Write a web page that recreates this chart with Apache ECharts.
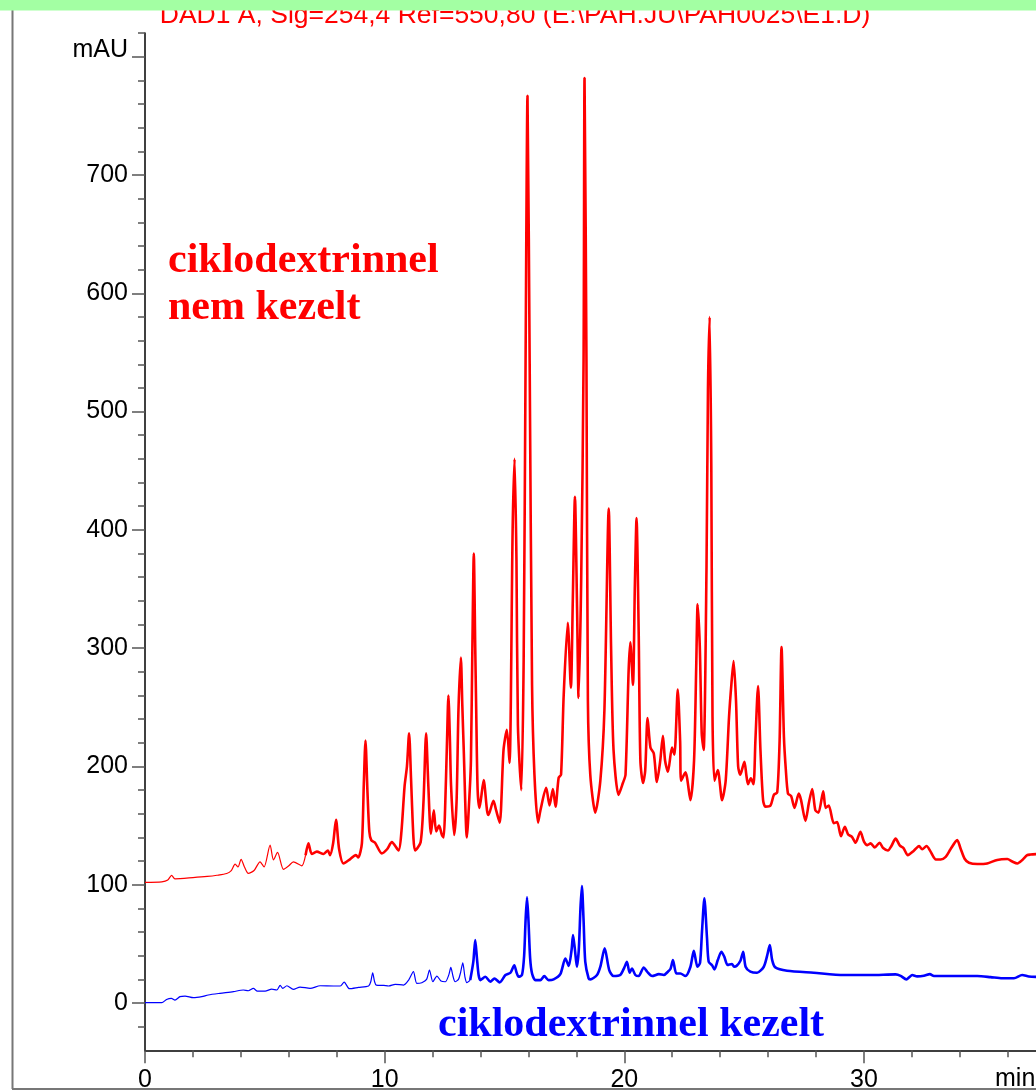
<!DOCTYPE html>
<html>
<head>
<meta charset="utf-8">
<script src="https://cdn.jsdelivr.net/npm/echarts@6/dist/echarts.min.js"></script>
<style>
  html, body { margin: 0; padding: 0; background: #fff; }
  #chart { width: 1036px; height: 1092px; }
</style>
</head>
<body>
<div id="chart"></div>
<script>
// Retention times (min) and absorbance (mAU) of the untreated sample
const redTime = [
  0.00, 0.70, 0.95, 1.11, 1.25, 2.00, 2.60, 3.00, 3.41, 3.60, 3.76, 3.88, 4.01, 4.15, 4.31, 4.55,
  4.80, 4.97, 5.22, 5.36, 5.53, 5.78, 6.00, 6.19, 6.54, 6.70, 6.82, 6.96, 7.17, 7.45, 7.63, 7.72,
  7.85, 7.97, 8.10, 8.28, 8.55, 8.80, 8.90, 9.05, 9.13, 9.20, 9.28, 9.36, 9.44, 9.60, 9.88, 10.10,
  10.30, 10.58, 10.70, 10.83, 10.93, 11.02, 11.10, 11.20, 11.27, 11.50, 11.62, 11.73, 11.82, 11.93,
  12.05, 12.15, 12.27, 12.39, 12.46, 12.52, 12.60, 12.66, 12.72, 12.77, 12.90, 13.00, 13.08, 13.18,
  13.24, 13.30, 13.43, 13.55, 13.60, 13.66, 13.72, 13.78, 13.82, 13.88, 13.96, 14.13, 14.27, 14.33,
  14.54, 14.65, 14.80, 14.96, 15.10, 15.21, 15.34, 15.42, 15.50, 15.56, 15.70, 15.80, 15.88, 15.96,
  16.05, 16.15, 16.25, 16.40, 16.50, 16.74, 16.88, 17.02, 17.13, 17.26, 17.36, 17.47, 17.64, 17.77,
  17.85, 17.94, 18.03, 18.09, 18.20, 18.30, 18.34, 18.42, 18.48, 18.58, 18.79, 19.00, 19.17, 19.35,
  19.45, 19.55, 19.76, 19.94, 20.05, 20.18, 20.25, 20.36, 20.44, 20.51, 20.60, 20.67, 20.78, 20.87,
  20.97, 21.09, 21.23, 21.36, 21.50, 21.61, 21.70, 21.82, 21.99, 22.09, 22.23, 22.33, 22.37, 22.55,
  22.76, 22.91, 23.00, 23.06, 23.15, 23.23, 23.31, 23.43, 23.49, 23.56, 23.63, 23.68, 23.76, 23.90,
  24.08, 24.23, 24.37, 24.47, 24.56, 24.66, 24.75, 24.84, 25.01, 25.09, 25.16, 25.28, 25.39, 25.47,
  25.58, 25.68, 25.79, 25.89, 26.10, 26.24, 26.38, 26.48, 26.56, 26.66, 26.74, 26.83, 26.96, 27.10,
  27.28, 27.37, 27.56, 27.70, 27.84, 27.97, 28.10, 28.30, 28.40, 28.53, 28.74, 28.88, 29.04, 29.20,
  29.34, 29.50, 29.65, 29.85, 30.00, 30.14, 30.28, 30.45, 30.65, 30.80, 31.00, 31.15, 31.32, 31.50,
  31.65, 31.83, 32.08, 32.30, 32.43, 32.61, 32.78, 33.00, 33.20, 33.41, 33.61, 33.89, 34.03, 34.20,
  34.38, 34.73, 35.14, 35.56, 35.98, 36.19, 36.40, 36.61, 36.81, 36.95, 37.30
];
const redSignal = [
  102, 102.5, 104, 108, 105, 106, 107, 108, 109.5, 112, 117.5, 115, 121.5, 115, 109.6, 112,
  119.4, 115, 133.5, 121, 127.3, 113, 116, 119.4, 116, 125, 135, 126, 128, 126, 129, 125,
  135, 155, 130, 118, 121.5, 125, 123, 135, 185, 222, 180, 145, 137.7, 135.5, 126.5, 130,
  136, 129, 145, 183, 200, 228, 190, 140, 129, 136, 170, 228, 185, 143,
  163, 145, 150, 142, 140, 163, 220, 260, 225, 184, 142, 170, 248, 292,
  252, 214, 140, 180, 205, 300, 380, 300, 248, 180, 165, 188.5, 163, 159,
  171, 163, 152.5, 214, 231, 203, 400, 460, 374, 235, 180, 290, 543, 767,
  543, 269, 193, 152.5, 163, 182, 167, 181, 166, 190.5, 193, 260, 321.5, 266.6,
  340, 428, 332, 258, 357, 543, 782, 543, 256, 193, 161, 188, 248, 418,
  298, 214, 176, 186, 193, 281, 305, 269, 353, 410, 313, 205, 186, 196,
  241, 216, 211, 187, 205, 226, 205, 195.5, 216, 210, 265, 221, 188, 195,
  171.5, 205, 284, 337, 301, 228, 214, 369, 518, 580, 453, 242, 188, 197,
  171.5, 188, 242, 270, 289, 256, 200, 193, 204, 193, 185, 190, 185, 222,
  268, 214, 171.5, 166, 167, 176, 178, 222, 301, 225, 197, 177, 175, 165,
  177, 172, 154, 169, 181, 163, 161, 179, 165, 167, 152, 153, 141, 149,
  142.5, 140.5, 135.5, 144.8, 136.5, 133.5, 135, 131.5, 135.5, 131, 129, 133, 139, 133,
  131, 125, 128.7, 132.7, 130, 132.7, 128, 121.4, 121.4, 123.6, 130, 137.7, 130.7, 122,
  118.6, 117.5, 118, 121, 121.7, 119.6, 118, 121, 125, 125.5, 126
];

// Retention times (min) and absorbance (mAU) of the cyclodextrin-treated sample
const blueTime = [
  0.00, 0.70, 0.90, 1.10, 1.25, 1.46, 1.67, 2.02, 2.37, 2.64, 3.13, 3.69, 4.10, 4.31, 4.52, 4.69,
  5.01, 5.29, 5.50, 5.64, 5.75, 5.92, 6.19, 6.47, 6.89, 7.31, 7.87, 8.15, 8.31, 8.53, 8.91, 9.33,
  9.42, 9.50, 9.58, 9.65, 9.96, 10.17, 10.44, 10.79, 11.00, 11.20, 11.34, 11.55, 11.75, 11.87, 12.01, 12.18,
  12.35, 12.53, 12.68, 12.76, 12.86, 12.94, 13.08, 13.17, 13.26, 13.35, 13.43, 13.57, 13.70, 13.78, 13.85, 13.92,
  14.00, 14.20, 14.41, 14.58, 14.80, 15.04, 15.25, 15.41, 15.50, 15.59, 15.73, 15.82, 15.88, 15.94, 16.00, 16.07,
  16.15, 16.29, 16.50, 16.66, 16.84, 17.05, 17.33, 17.54, 17.68, 17.80, 17.86, 17.94, 18.02, 18.10, 18.17, 18.23,
  18.30, 18.37, 18.51, 18.58, 18.86, 19.00, 19.18, 19.37, 19.55, 19.83, 20.00, 20.11, 20.22, 20.32, 20.46, 20.60,
  20.81, 20.95, 21.16, 21.44, 21.65, 21.82, 21.93, 22.03, 22.17, 22.34, 22.55, 22.76, 22.90, 23.05, 23.16, 23.24,
  23.34, 23.45, 23.52, 23.66, 23.76, 23.90, 24.05, 24.17, 24.31, 24.49, 24.58, 24.69, 24.85, 24.96, 25.06, 25.26,
  25.54, 25.82, 25.96, 26.07, 26.17, 26.30, 26.79, 27.90, 29.16, 30.28, 31.32, 31.53, 31.77, 31.90, 32.01, 32.22,
  32.50, 32.75, 32.92, 33.76, 34.73, 35.28, 35.77, 36.26, 36.60, 36.88, 37.30
];
const blueSignal = [
  0.3, 0.3, 3, 3.9, 2.5, 5.4, 5.9, 4.5, 5.4, 6.8, 8.2, 9.6, 11, 10.4, 12.4, 10.1,
  10.1, 11.8, 11, 14.9, 12.4, 14.6, 11.5, 13.5, 12.4, 14.6, 14.4, 14.4, 17.7, 12.1, 13.2, 14.4,
  18, 25.6, 18, 15.2, 14.9, 14.4, 15.8, 15.2, 19.4, 26.5, 16.6, 17.2, 20, 27.9, 18, 22.8,
  18.6, 18, 24, 30.1, 22, 18, 20, 26, 34, 22, 17.2, 19.4, 35, 53.2, 38, 23.7,
  19.4, 22.2, 18, 20.8, 17.5, 23.7, 25.6, 32, 26, 22.2, 23.7, 40, 70, 89.3, 70, 38,
  25, 19.4, 19.4, 22.8, 19.4, 20, 24.4, 37.7, 31.3, 45, 57.5, 45, 30.7, 45, 80, 98.9,
  70, 35, 20.8, 20, 23.7, 30.7, 46.2, 27.9, 22.8, 23.7, 30, 34.9, 25.6, 29.2, 23.7, 22.8,
  30.1, 26.5, 22.8, 24.4, 23.7, 26.5, 29, 36.3, 25, 25, 22.8, 30.7, 44.2, 30.7, 34, 60,
  88.5, 55, 34.9, 32, 28.4, 36.3, 43.4, 39.2, 32.1, 33, 30.7, 31.5, 36, 43.4, 30.7, 26.5,
  25.6, 30.7, 40, 49, 36.3, 30.1, 27.3, 25.6, 23.7, 23.7, 24.2, 23, 20, 22, 23.7, 22.5,
  23, 24.4, 22.8, 22.8, 22.8, 21.9, 20.9, 20.9, 23.7, 22.5, 22
];

// Axis ticks
const timeLabelTicks = [0, 10, 20, 30];
const timeMinorTicks = [0, 2, 4, 6, 8, 10, 12, 14, 16, 18, 20, 22, 24, 26, 28, 30, 32, 34, 36, 38];
const mauLabelTicks = [0, 100, 200, 300, 400, 500, 600, 700, 800];
const mauMinorTicks = [];
for (let v = -20; v <= 820; v += 20) mauMinorTicks.push(v);

const TIME_MIN = 0, TIME_MAX = 38;
const MAU_MIN = -40, MAU_MAX = 820;

function segment(times, values, from, to) {
  const out = [];
  for (let i = 0; i < times.length; i++) {
    if (times[i] >= from && times[i] <= to) out.push([times[i], values[i]]);
  }
  return out;
}

const chart = echarts.init(document.getElementById('chart'), null, { renderer: 'canvas' });

// The plot area runs past the right edge of the page, as the time axis is cut there
const grid = {
  left: 145, top: 33.05, width: 910.7, height: 1017.3,
  containLabel: false, outerBoundsMode: 'none'
};
const labelFont = { fontFamily: '"Liberation Sans", Arial, sans-serif', fontSize: 25, color: '#000' };
const tickStyle = { color: '#555', width: 1.5 };

function lineSeries(data, color, width) {
  return {
    type: 'line', data: data, xAxisIndex: 0, yAxisIndex: 0,
    showSymbol: false, smooth: 0.25, clip: true,
    lineStyle: { color: color, width: width }, z: 3
  };
}

chart.setOption({
  animation: false,
  backgroundColor: '#fff',
  grid: grid,
  xAxis: [
    {
      type: 'value', min: TIME_MIN, max: TIME_MAX,
      axisLine: { show: true, onZero: false, lineStyle: { color: '#000', width: 1.5 } },
      axisTick: { show: true, length: 13, customValues: timeLabelTicks, lineStyle: tickStyle },
      axisLabel: Object.assign({ customValues: timeLabelTicks, margin: 17 }, labelFont),
      splitLine: { show: false }
    },
    {
      type: 'value', min: TIME_MIN, max: TIME_MAX, position: 'bottom',
      axisLine: { show: false, onZero: false },
      axisTick: { show: true, length: 7, customValues: timeMinorTicks, lineStyle: tickStyle },
      axisLabel: { show: false },
      splitLine: { show: false }
    }
  ],
  yAxis: [
    {
      type: 'value', min: MAU_MIN, max: MAU_MAX,
      axisLine: { show: true, onZero: false, lineStyle: { color: '#000', width: 1.5 } },
      axisTick: { show: true, length: 13, customValues: mauLabelTicks, lineStyle: tickStyle },
      axisLabel: Object.assign({
        customValues: mauLabelTicks, margin: 17,
        formatter: function (v) { return v === 800 ? '{unit|mAU}' : String(v); },
        rich: {
          unit: {
            fontFamily: '"Liberation Sans", Arial, sans-serif', fontSize: 25,
            color: '#000', padding: [0, 0, 14, 0]
          }
        }
      }, labelFont),
      splitLine: { show: false }
    },
    {
      type: 'value', min: MAU_MIN, max: MAU_MAX, position: 'left',
      axisLine: { show: false, onZero: false },
      axisTick: { show: true, length: 7, customValues: mauMinorTicks, lineStyle: tickStyle },
      axisLabel: { show: false },
      splitLine: { show: false }
    }
  ],
  series: [
    lineSeries(segment(redTime, redSignal, 0, 6.70), '#ff0000', 1.2),
    lineSeries(segment(redTime, redSignal, 6.70, 99), '#ff0000', 2.6),
    lineSeries(segment(blueTime, blueSignal, 0, 13.57), '#0000ff', 1.2),
    lineSeries(segment(blueTime, blueSignal, 13.57, 99), '#0000ff', 2.6)
  ],
  graphic: [
    {
      type: 'text', x: 515, y: 16, z: 10,
      style: {
        text: 'DAD1 A, Sig=254,4 Ref=550,80 (E:\\PAH.JU\\PAH0025\\E1.D)',
        fill: '#ff0000', font: '26.5px "Liberation Sans", Arial, sans-serif',
        textAlign: 'center', textVerticalAlign: 'middle'
      }
    },
    {
      type: 'rect', z: 20,
      shape: { x: 0, y: 0, width: 1036, height: 10.5 },
      style: { fill: '#a3ffa3' }
    },
    {
      type: 'line', z: 10,
      shape: { x1: 12.5, y1: 10, x2: 12.5, y2: 1089 },
      style: { stroke: '#777', lineWidth: 2 }
    },
    {
      type: 'line', z: 10,
      shape: { x1: 12, y1: 1089, x2: 1036, y2: 1089 },
      style: { stroke: '#777', lineWidth: 2 }
    },
    {
      type: 'text', x: 995, y: 1079, z: 10,
      style: {
        text: 'min', fill: '#000', font: '25px "Liberation Sans", Arial, sans-serif',
        textAlign: 'left', textVerticalAlign: 'middle'
      }
    },
    {
      type: 'text', x: 168, y: 261, z: 10,
      style: {
        text: 'ciklodextrinnel', fill: '#ff0000',
        font: 'bold 42px "Liberation Serif", "Times New Roman", serif',
        textAlign: 'left', textVerticalAlign: 'middle'
      }
    },
    {
      type: 'text', x: 168, y: 308, z: 10,
      style: {
        text: 'nem kezelt', fill: '#ff0000',
        font: 'bold 42px "Liberation Serif", "Times New Roman", serif',
        textAlign: 'left', textVerticalAlign: 'middle'
      }
    },
    {
      type: 'text', x: 438, y: 1025, z: 10,
      style: {
        text: 'ciklodextrinnel kezelt', fill: '#0000ff',
        font: 'bold 42px "Liberation Serif", "Times New Roman", serif',
        textAlign: 'left', textVerticalAlign: 'middle'
      }
    }
  ]
});
</script>
</body>
</html>
